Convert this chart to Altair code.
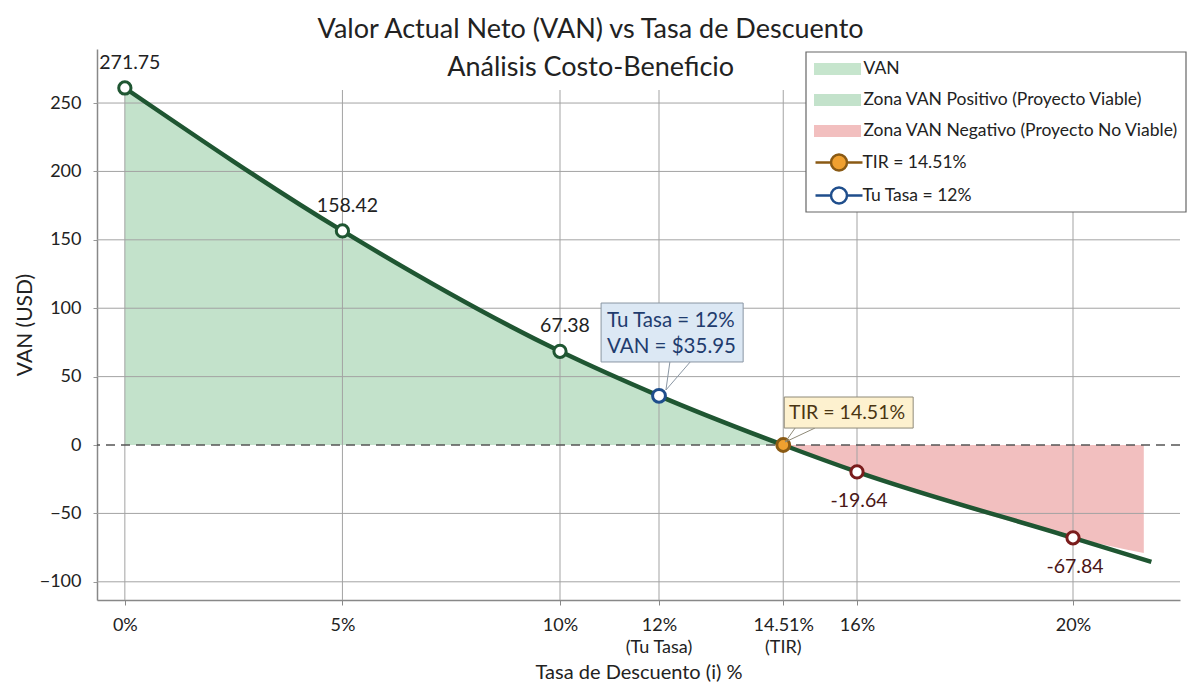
import altair as alt
import pandas as pd

# ---------------- data ----------------
rates = [0, 5, 10, 12, 14.51, 16, 20, 21.45]
van = [261, 156.5, 68.5, 35.95, 0, -19.64, -67.84, -85.5]

pos_rates = [0, 5, 10, 12, 14.51]
pos_van = [261, 156.5, 68.5, 35.95, 0]
neg_rates = [14.51, 16, 20, 21.31]
neg_van = [0, -19.64, -67.84, -79]

marker_rates = [0, 5, 10, 16, 20]
marker_van = [261, 156.5, 68.5, -19.64, -67.84]
marker_kind = ["pos", "pos", "pos", "neg", "neg"]

key_rates = [14.51, 12]
key_van = [0, 35.95]

label_text = ["271.75", "158.42", "67.38", "-19.64", "-67.84"]

x_ticks = [0, 5, 10, 12, 14.51, 16, 20]
x_sub_rates = [12, 14.51]
x_sub_labels = ["(Tu Tasa)", "(TIR)"]
y_ticks = [-100, -50, 0, 50, 100, 150, 200, 250]
y_grid = [-100, -50, 50, 100, 150, 200, 250]

zone_series = ["VAN", "Zona VAN Positivo (Proyecto Viable)", "Zona VAN Negativo (Proyecto No Viable)"]
key_series = ["TIR = 14.51%", "Tu Tasa = 12%"]

tasa_lines = ["Tu Tasa = 12%", "VAN = $35.95"]
tir_line = ["TIR = 14.51%"]

# annotation geometry (data units)
tasa_box = {"x": 10.83, "x2": 13.70, "y": 60.7, "y2": 103.8}
tasa_text_x = [10.95, 10.95]
tasa_text_y = [91.0, 72.0]
tasa_wedge = {"x": [12.14, 12.14], "x2": [12.22, 12.63], "y": [40.2, 40.2], "y2": [60.7, 60.7]}
tir_box = {"x": 14.53, "x2": 17.04, "y": 12.4, "y2": 35.1}
tir_text_pos = {"x": 15.80, "y": 23.6}
tir_wedge = {"x": [14.55, 14.55], "x2": [14.75, 15.15], "y": [2.2, 2.2], "y2": [12.4, 12.4]}

FONT = "Lato"
Y_MIN, Y_MAX = -113.3, 289.5
W, H = 1083, 551
VGRID_TOP = 41  # vertical grid lines start a little below the plot top

# piecewise-linear x scale (the reference axis is slightly stretched to the right)
x_scale = alt.Scale(domain=[-0.64, 10, 16, 20, 21.98], range=[0, 463, 760, 976, W],
                    nice=False, zero=False)
y_scale = alt.Scale(domain=[Y_MIN, Y_MAX], nice=False, zero=False)

RECT = "M-2.61,-0.667H2.61V0.667H-2.61Z"
LC = ("M-2.61,0H-0.889M0.889,0H2.61M0.889,0A0.889,0.889,0,1,1,-0.889,0"
      "A0.889,0.889,0,1,1,0.889,0Z")

zone_fill = alt.Scale(domain=zone_series, range=["#c6e5cd", "#c3e2cb", "#f2bfbf"])
key_fill = alt.Scale(domain=key_series, range=["#f0a030", "#ffffff"])
key_stroke = alt.Scale(domain=key_series, range=["#8a5a14", "#1f4e8c"])

leg_common = dict(
    title=None, orient="none", symbolSize=324, symbolOpacity=1, symbolOffset=14.5,
    labelFont=FONT, labelFontSize=17.5, labelColor="#222", labelLimit=500, padding=8,
)
leg_zone = alt.Legend(legendX=709, legendY=3, symbolType=RECT, symbolStrokeWidth=0,
                      labelOffset=17, rowPadding=13, **leg_common)
leg_key = alt.Legend(legendX=709, legendY=95, symbolType=LC, symbolStrokeWidth=2.5,
                     labelOffset=13, rowPadding=6, **leg_common)

x_axis = alt.Axis(
    values=x_ticks, labelExpr="format(datum.value, '.4~f') + '%'",
    grid=False, tickSize=5, tickColor="#888", domainColor="#888", domainWidth=1.5,
    labelFont=FONT, labelFontSize=18, labelColor="#222", labelPadding=11,
    labelOverlap=False, labelFlush=False,
    title="Tasa de Descuento (i) %", titleFont=FONT, titleFontSize=20,
    titleFontWeight="normal", titleColor="#222", titlePadding=28,
)
y_axis = alt.Axis(
    values=y_ticks, grid=False, tickSize=4, tickColor="#999", domainColor="#888",
    domainWidth=1.5, labelFont=FONT, labelFontSize=18, labelColor="#222",
    labelPadding=12, title="VAN (USD)", titleFont=FONT, titleFontSize=21,
    titleFontWeight="normal", titleColor="#222", titlePadding=4,
)


def X(field="rate"):
    return alt.X(f"{field}:Q", scale=x_scale)


def Y(field="van"):
    return alt.Y(f"{field}:Q", scale=y_scale)


# ---------------- layers ----------------
pos_df = pd.DataFrame({"rate": pos_rates, "van": pos_van, "base": 0, "serie": zone_series[1]})
neg_df = pd.DataFrame({"rate": neg_rates, "van": neg_van, "base": 0, "serie": zone_series[2]})

area_pos = alt.Chart(pos_df).mark_area(interpolate="monotone", opacity=1).encode(
    x=X(), y=Y(), y2="base:Q",
    fill=alt.Fill("serie:N", scale=zone_fill, legend=leg_zone))
area_neg = alt.Chart(neg_df).mark_area(interpolate="monotone", opacity=1).encode(
    x=X(), y=Y(), y2="base:Q",
    fill=alt.Fill("serie:N", scale=zone_fill, legend=leg_zone))

vgrid = alt.Chart(pd.DataFrame({"rate": x_ticks})).mark_rule(
    color="#a3a3a3", strokeWidth=1).encode(x=X(), y=alt.value(VGRID_TOP), y2=alt.value(H))
hgrid = alt.Chart(pd.DataFrame({"van": y_grid})).mark_rule(
    color="#a3a3a3", strokeWidth=1).encode(y=Y())
zero = alt.Chart(pd.DataFrame({"van": [0]})).mark_rule(
    color="#555", strokeWidth=1.6, strokeDash=[9, 6]).encode(y=Y())

line_df = pd.DataFrame({"rate": rates, "van": van})
line = alt.Chart(line_df).mark_line(
    color="#1f5632", strokeWidth=4.5, interpolate="monotone"
).encode(
    x=alt.X("rate:Q", scale=x_scale, axis=x_axis),
    y=alt.Y("van:Q", scale=y_scale, axis=y_axis),
)

mk_df = pd.DataFrame({"rate": marker_rates, "van": marker_van, "kind": marker_kind, "txt": label_text})
marker_stroke = {"pos": "#1f5632", "neg": "#7a1c1c"}
markers = [
    alt.Chart(mk_df).transform_filter(alt.datum.kind == k).mark_point(
        shape="circle", filled=True, fill="white", stroke=c, size=150,
        opacity=1, strokeWidth=3
    ).encode(x=X(), y=Y())
    for k, c in marker_stroke.items()
]

key_df = pd.DataFrame({"rate": key_rates, "van": key_van, "serie": key_series})
key_points = alt.Chart(key_df).mark_point(
    shape="circle", filled=True, size=165, opacity=1, strokeWidth=3
).encode(
    x=X(), y=Y(),
    color=alt.Color("serie:N", scale=key_fill, legend=leg_key),
    stroke=alt.Stroke("serie:N", scale=key_stroke, legend=leg_key),
)

labels_pos = alt.Chart(mk_df).transform_filter(alt.datum.kind == "pos").mark_text(
    font=FONT, fontSize=19.5, color="#222", dy=-25, dx=5
).encode(x=X(), y=Y(), text="txt:N")
labels_neg = alt.Chart(mk_df).transform_filter(alt.datum.kind == "neg").mark_text(
    font=FONT, fontSize=19.5, color="#4a1616", dy=29, dx=2
).encode(x=X(), y=Y(), text="txt:N")

sub_df = pd.DataFrame({"rate": x_sub_rates, "t": x_sub_labels})
sub_labels = alt.Chart(sub_df).mark_text(
    font=FONT, fontSize=18, color="#222", baseline="middle"
).encode(x=X(), y=alt.value(H + 48), text="t:N")

tasa_w = alt.Chart(pd.DataFrame(tasa_wedge)).mark_rule(color="#8a96a3", strokeWidth=1).encode(
    x=alt.X("x:Q", scale=x_scale), x2="x2:Q", y=alt.Y("y:Q", scale=y_scale), y2="y2:Q")
tasa_rect = alt.Chart(pd.DataFrame([tasa_box])).mark_rect(
    fill="#dce8f4", stroke="#8a96a3", strokeWidth=1
).encode(x=alt.X("x:Q", scale=x_scale), x2="x2:Q",
         y=alt.Y("y:Q", scale=y_scale), y2="y2:Q")
tasa_txt = alt.Chart(pd.DataFrame({"rate": tasa_text_x, "van": tasa_text_y, "t": tasa_lines})).mark_text(
    font=FONT, fontSize=20.5, color="#1f3c6e", align="left", baseline="middle"
).encode(x=X(), y=Y(), text="t:N")

tir_w = alt.Chart(pd.DataFrame(tir_wedge)).mark_rule(color="#8f8a78", strokeWidth=1).encode(
    x=alt.X("x:Q", scale=x_scale), x2="x2:Q", y=alt.Y("y:Q", scale=y_scale), y2="y2:Q")
tir_rect = alt.Chart(pd.DataFrame([tir_box])).mark_rect(
    fill="#fdf1cf", stroke="#8f8a78", strokeWidth=1
).encode(x=alt.X("x:Q", scale=x_scale), x2="x2:Q",
         y=alt.Y("y:Q", scale=y_scale), y2="y2:Q")
tir_txt = alt.Chart(pd.DataFrame({"rate": [tir_text_pos["x"]], "van": [tir_text_pos["y"]], "t": tir_line})).mark_text(
    font=FONT, fontSize=19.5, color="#4a3512", align="center", baseline="middle"
).encode(x=X(), y=Y(), text="t:N")

legend_box = alt.Chart(pd.DataFrame({"k": [0]})).mark_rect(
    fill="white", stroke="#666", strokeWidth=1.2
).encode(x=alt.value(709), x2=alt.value(1089), y=alt.value(3), y2=alt.value(163))

chart = alt.layer(
    area_pos, area_neg, vgrid, hgrid, zero, line, *markers, key_points,
    labels_pos, labels_neg, sub_labels,
    tasa_w, tasa_rect, tasa_txt, tir_w, tir_rect, tir_txt, legend_box,
).properties(
    width=W, height=H,
    autosize=alt.AutoSizeParams(type="none"),
    padding={"left": 89, "top": 41, "right": 8, "bottom": 82},
    title=alt.Title(
        text="Valor Actual Neto (VAN) vs Tasa de Descuento",
        subtitle="Análisis Costo-Beneficio",
        font=FONT, fontSize=27, fontWeight="normal", color="#222",
        subtitleFont=FONT, subtitleFontSize=27, subtitleColor="#222",
        subtitlePadding=11, anchor="middle", frame="bounds", offset=-33, dx=-10,
    ),
).configure_view(stroke=None)

chart.save("out.html", embed_options={"renderer": "svg", "actions": False})
